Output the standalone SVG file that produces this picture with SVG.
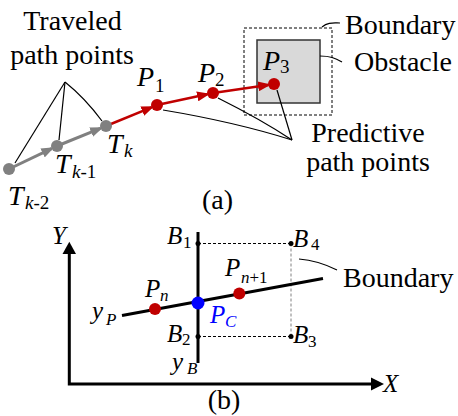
<svg xmlns="http://www.w3.org/2000/svg" width="458" height="416" viewBox="0 0 458 416" font-family="Liberation Serif, Times New Roman, DejaVu Serif, serif">
<defs>
<style>
text{font-family:Liberation Serif, Times New Roman, DejaVu Serif, serif;fill:#000}
.t{font-size:28px}
.i{font-style:italic;font-size:28px}
.s{font-size:19px}
.bi{font-style:italic;font-size:25px}
.bs{font-size:17px}
.n{font-style:normal}
.lead{fill:none;stroke:#000;stroke-width:1.2}
.gray{stroke:#808080;stroke-width:3;fill:none}
.red{stroke:#c00000;stroke-width:2.5;fill:none}
</style>
<marker id="ag" markerUnits="userSpaceOnUse" markerWidth="14" markerHeight="10" refX="10" refY="5" orient="auto"><path d="M0,0 L13,5 L0,10 z" fill="#808080"/></marker>
<marker id="ar" markerUnits="userSpaceOnUse" markerWidth="14" markerHeight="10" refX="10" refY="5" orient="auto"><path d="M0,0 L13,5 L0,10 z" fill="#c00000"/></marker>
</defs>
<rect width="458" height="416" fill="#fff"/>

<!-- (a) -->
<g id="boundary-a">
<rect x="244" y="28" width="88" height="87" fill="none" stroke="#000" stroke-width="1" stroke-dasharray="3,2"/>
</g>
<g id="obstacle">
<rect x="257" y="40" width="63" height="63" fill="#d9d9d9" stroke="#333" stroke-width="1.5"/>
</g>
<g id="connectors">
<path class="lead" d="M65,82 L15,163"/>
<path class="lead" d="M65,82 Q62,110 59,140"/>
<path class="lead" d="M65,82 Q85,98 102,121"/>
<path class="lead" d="M163,110 Q235,122 292,140"/>
<path class="lead" d="M218,98 Q262,120 292,140"/>
<path class="lead" d="M277,90 L292,140"/>
<path class="lead" d="M322,27 C328,22 333,23 340,23"/>
<path class="lead" d="M320,56 C330,56 335,58 342,62"/>
<path class="lead" d="M299,259 C312,260 325,264 337,270"/>
<line class="gray" x1="9" y1="169" x2="51.6" y2="148.6" marker-end="url(#ag)"/>
<line class="gray" x1="57" y1="146" x2="100.4" y2="128.3" marker-end="url(#ag)"/>
<line class="red" x1="106" y1="126" x2="151.5" y2="107.3" marker-end="url(#ar)"/>
<line class="red" x1="157" y1="105" x2="207.1" y2="94.3" marker-end="url(#ar)"/>
<line class="red" x1="213" y1="93" x2="268.1" y2="84.9" marker-end="url(#ar)"/>
</g>
<g id="Tk-2"><circle cx="9" cy="169" r="6" fill="#808080"/><text class="i" x="8" y="205">T<tspan class="s" x="25" y="209">k</tspan><tspan class="s n">-2</tspan></text></g>
<g id="Tk-1"><circle cx="57" cy="146" r="6" fill="#808080"/><text class="i" x="55" y="173">T<tspan class="s" x="72" y="178">k</tspan><tspan class="s n">-1</tspan></text></g>
<g id="Tk"><circle cx="106" cy="126" r="6" fill="#808080"/><text class="i" x="107" y="153">T<tspan class="s" x="124" y="157">k</tspan></text></g>
<g id="P1"><circle cx="157" cy="105" r="6" fill="#c00000"/><text class="i" x="137" y="86">P<tspan class="s n" x="155" y="92">1</tspan></text></g>
<g id="P2"><circle cx="213" cy="93" r="6" fill="#c00000"/><text class="i" x="198" y="82">P<tspan class="s n" x="215" y="86">2</tspan></text></g>
<g id="P3"><circle cx="274" cy="84" r="6" fill="#c00000"/><text class="i" x="263" y="70">P<tspan class="s n" x="280" y="73">3</tspan></text></g>
<g id="labels-a">
<text class="t" x="72.5" y="30" text-anchor="middle">Traveled</text>
<text class="t" x="72" y="64" text-anchor="middle">path points</text>
<text class="t" x="345" y="34">Boundary</text>
<text class="t" x="354" y="71">Obstacle</text>
<text class="t" x="368" y="141.5" text-anchor="middle">Predictive</text>
<text class="t" x="368" y="170.5" text-anchor="middle">path points</text>
<text class="t" x="217.5" y="209" text-anchor="middle">(a)</text>
</g>

<!-- (b) -->
<g id="axes">
<polyline points="69.3,253 69.3,384 372,384" fill="none" stroke="#000" stroke-width="3"/>
<polygon points="69.3,241.7 62.5,254 76,254" fill="#000"/>
<polygon points="384,384 371,377.5 371,390.5" fill="#000"/>
<text class="bi" x="52" y="244">Y</text>
<text class="bi" x="383" y="392">X</text>
</g>
<g id="boundary-b">
<line x1="198" y1="243.5" x2="291" y2="243.5" stroke="#000" stroke-width="1" stroke-dasharray="3,2"/>
<line x1="198" y1="336.5" x2="291" y2="336.5" stroke="#000" stroke-width="1" stroke-dasharray="3,2"/>
<line x1="291" y1="243.5" x2="291" y2="336.5" stroke="#808080" stroke-width="1" stroke-dasharray="3,2"/>
<text class="t" x="343" y="287">Boundary</text>
</g>
<g id="yB">
<line x1="198" y1="232" x2="198" y2="363" stroke="#000" stroke-width="3"/>
<text class="bi" x="172" y="370">y<tspan class="bs" x="187" y="374">B</tspan></text>
</g>
<g id="yP">
<line x1="122" y1="315.5" x2="323" y2="278.5" stroke="#000" stroke-width="3"/>
<text class="bi" x="92" y="319">y<tspan class="bs" x="106" y="325">P</tspan></text>
</g>
<g id="B1"><circle cx="198" cy="243.5" r="2.5"/><text class="bi" x="167" y="243.5">B<tspan class="bs n" x="183" y="248">1</tspan></text></g>
<g id="B2"><circle cx="198" cy="336.5" r="2.5"/><text class="bi" x="167" y="341.5">B<tspan class="bs n" x="182" y="345">2</tspan></text></g>
<g id="B3"><circle cx="291" cy="336.5" r="2.5"/><text class="bi" x="293" y="343">B<tspan class="bs n" x="308" y="347">3</tspan></text></g>
<g id="B4"><circle cx="291" cy="243.5" r="2.5"/><text class="bi" x="293" y="246.5">B<tspan class="bs n" x="311" y="249.5">4</tspan></text></g>
<g id="Pn"><circle cx="155" cy="309" r="6" fill="#c00000"/><text class="bi" x="145" y="296.5">P<tspan class="bs" x="160" y="301">n</tspan></text></g>
<g id="Pn1"><circle cx="239.3" cy="293.5" r="6" fill="#c00000"/><text class="bi" x="225" y="276">P<tspan class="bs" x="241" y="282.5">n</tspan><tspan class="bs n">+1</tspan></text></g>
<g id="PC"><circle cx="198" cy="303" r="6.5" fill="#0000ff"/><text class="bi" x="210" y="322.5" style="fill:#0000ff">P<tspan class="bs" x="225" y="327">C</tspan></text></g>
<text class="t" x="224" y="409" text-anchor="middle">(b)</text>
</svg>
